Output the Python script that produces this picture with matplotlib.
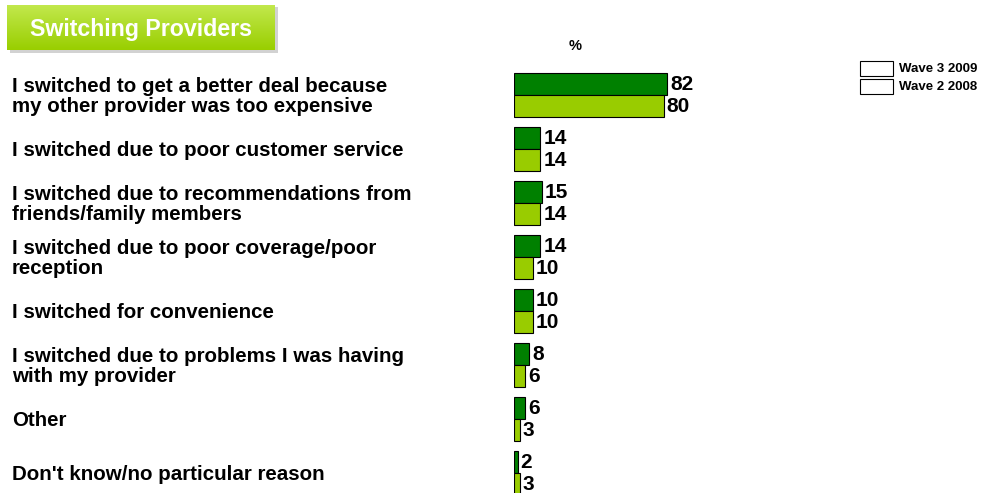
import matplotlib
matplotlib.use("Agg")
import matplotlib.pyplot as plt
from matplotlib.patches import Rectangle
import numpy as np

plt.rcParams['font.family'] = ['Liberation Sans', 'DejaVu Sans']

categories = [
    "I switched to get a better deal because\nmy other provider was too expensive",
    "I switched due to poor customer service",
    "I switched due to recommendations from\nfriends/family members",
    "I switched due to poor coverage/poor\nreception",
    "I switched for convenience",
    "I switched due to problems I was having\nwith my provider",
    "Other",
    "Don't know/no particular reason",
]
wave3_2009 = [82, 14, 15, 14, 10, 8, 6, 2]
wave2_2008 = [80, 14, 14, 10, 10, 6, 3, 3]
series_names = ["Wave 3 2009", "Wave 2 2008"]

DARK = "#008000"
LIGHT = "#99CC00"

W, H = 997, 493
fig = plt.figure(figsize=(W / 100, H / 100), dpi=100)

# Axes placement in pixel terms
x0_px, px_per_unit = 514, 1.87
xmax = 100
top_px, bot_px = 60, 493
row_px, first_center_px = 54, 95
ax = fig.add_axes([x0_px / W, 1 - bot_px / H, xmax * px_per_unit / W, (bot_px - top_px) / H])
ax.set_xlim(0, xmax)
ax.set_ylim((bot_px - first_center_px) / row_px, (top_px - first_center_px) / row_px)
ax.axis('off')

y = np.arange(len(categories))
bh = 22 / row_px
ax.barh(y - bh / 2, wave3_2009, height=bh, color=DARK, edgecolor='black', linewidth=0.8)
ax.barh(y + bh / 2, wave2_2008, height=bh, color=LIGHT, edgecolor='black', linewidth=0.8)

for yi, v in zip(y, wave3_2009):
    ax.text(v + 1.6, yi - bh / 2, f"{v}", va='center', ha='left', fontsize=15, fontweight='bold')
for yi, v in zip(y, wave2_2008):
    ax.text(v + 1.6, yi + bh / 2, f"{v}", va='center', ha='left', fontsize=15, fontweight='bold')

# Category labels on the left
for yi, cat in zip(y, categories):
    ypx = first_center_px + yi * row_px + 1.5
    fig.text(12 / W, 1 - ypx / H, cat, ha='left', va='center', fontsize=14.8,
             fontweight='bold', linespacing=1.0)

# Percent marker
fig.text(575 / W, 1 - 46 / H, "%", ha='center', va='center', fontsize=10.5, fontweight='bold')

# Legend with empty swatches
for i, name in enumerate(series_names):
    ytop = 61 + i * 18
    fig.patches.append(Rectangle((860 / W, 1 - (ytop + 15) / H), 33 / W, 15 / H,
                                 transform=fig.transFigure, facecolor='white',
                                 edgecolor='black', linewidth=0.8))
    fig.text(899 / W, 1 - (ytop + 7.5) / H, name, ha='left', va='center',
             fontsize=9.5, fontweight='bold')

# Title banner with gradient and soft shadow
shadow_ax = fig.add_axes([10 / W, 1 - 53 / H, 268 / W, 46 / H], zorder=1)
shadow_ax.add_patch(Rectangle((0, 0), 1, 1, facecolor='#d2d2d2', edgecolor='none'))
shadow_ax.set_xlim(0, 1)
shadow_ax.set_ylim(0, 1)
shadow_ax.axis('off')

bax = fig.add_axes([7 / W, 1 - 50 / H, 268 / W, 45 / H], zorder=2)
grad = np.linspace(0, 1, 64).reshape(-1, 1)
top_c = np.array([0.76, 0.91, 0.30])
bot_c = np.array([0.60, 0.81, 0.0])
img = top_c + (bot_c - top_c) * grad[..., None]
img = np.repeat(img, 2, axis=1)
bax.imshow(img, aspect='auto', extent=[0, 1, 0, 1])
bax.set_xlim(0, 1)
bax.set_ylim(0, 1)
bax.axis('off')
bax.text(0.5, 0.46, "Switching Providers", ha='center', va='center', color='white',
         fontsize=16.7, fontweight='bold')

fig.savefig("out.png", dpi=100)
